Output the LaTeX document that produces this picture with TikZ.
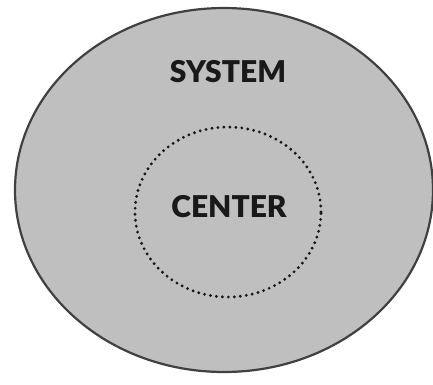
\documentclass[tikz,border=0pt]{standalone}
\usepackage{fontspec}
\setmainfont{Lato}
\usetikzlibrary{shapes.geometric}
\begin{document}
\begin{tikzpicture}[x=1pt,y=-1pt,
  outer/.style={draw=black!75,line width=2.2pt,fill=black!25},
  inner/.style={draw=black!90,line width=3.2pt,line cap=round,dash pattern=on 0pt off 6pt},
  lbl/.style={font=\fontspec{Lato Black}\fontsize{30}{30}\selectfont,text=black!90,inner sep=0pt}]
\useasboundingbox (0,0) rectangle (433,384);
\node[outer,ellipse,minimum width=418pt,minimum height=364pt,inner sep=0pt] (system) at (224,190) {};
\node[inner,ellipse,minimum width=186pt,minimum height=170pt,inner sep=0pt] (center) at (228,212) {};
\node[lbl] (systemlabel) at (228,72) {SYSTEM};
\node[lbl] (centerlabel) at (229,207) {CENTER};
\end{tikzpicture}
\end{document}
